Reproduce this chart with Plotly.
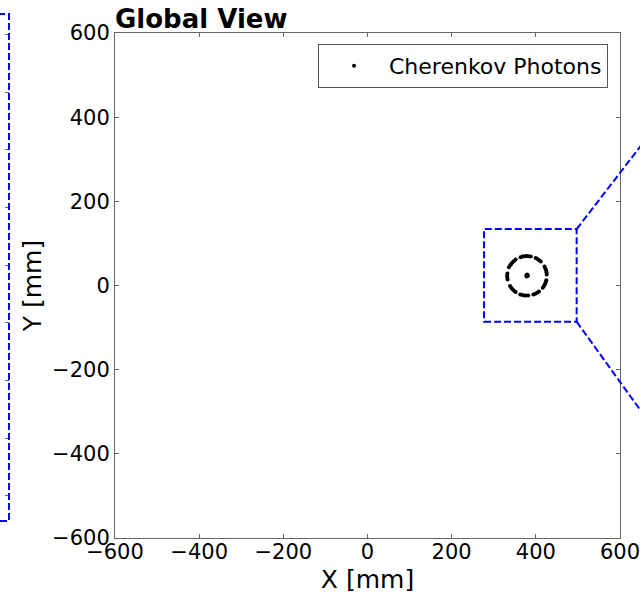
import plotly.graph_objects as go

# ---------------- data ----------------
photon_x = [425.9, 425.3, 424.2, 422.6, 420.5,
            411.7, 407.9, 403.9, 399.6,
            388.0, 383.1, 378.2, 373.3, 368.4, 363.7,
            352.0, 348.2, 344.6, 341.5, 339.1, 336.0,
            332.4, 332.0, 332.2, 332.9,
            338.7, 341.5, 344.6, 348.2, 352.0,
            362.9, 367.6, 372.5, 377.4, 382.3,
            394.3, 398.9, 403.2, 407.3,
            416.5, 419.3, 421.6, 423.4, 424.8,
            379.0, 380.2, 378.1, 381.0, 379.3, 377.6]
photon_y = [26.3, 31.2, 36.0, 40.6, 45.1,
            56.8, 60.0, 62.9, 65.2,
            69.1, 69.8, 70.0, 69.6, 68.8, 67.4,
            61.5, 58.5, 55.1, 51.3, 47.9, 43.2,
            28.7, 23.8, 18.9, 14.0,
            -1.2, -5.3, -9.1, -12.5, -15.5,
            -21.2, -22.6, -23.5, -24.0, -23.9,
            -21.4, -19.6, -17.3, -14.5,
            -5.3, -1.2, 3.1, 7.7, 12.4,
            23.0, 25.0, 21.2, 22.3, 26.0, 24.1]

x_range = [-600, 600]
y_range = [-600, 600]
x_ticks = [-600, -400, -200, 0, 200, 400, 600]
y_ticks = [-600, -400, -200, 0, 200, 400, 600]

zoom_box_x = [277, 497]
zoom_box_y = [-86, 134]
zoom_ticks = [-75, -50, -25, 0, 25, 50, 75, 100, 125]

# ---------------- layout geometry (pixels) ----------------
W, H = 640, 594
PL, PR, PT, PB = 115, 620, 33, 538          # main plot area
ZR, ZT, ZB = 9, 14, 521                     # left (zoom) panel visible edge

FONT = "DejaVu Sans"
BLUE = "#0000ff"
SPINE = "#666666"


def dx2paper(v):
    return (PL + (v - x_range[0]) / (x_range[1] - x_range[0]) * (PR - PL)) / W


def dy2paper(v):
    return 1 - (PB - (v - y_range[0]) / (y_range[1] - y_range[0]) * (PB - PT)) / H


fig = go.Figure()
fig.add_trace(go.Scatter(
    x=photon_x, y=photon_y, mode="markers",
    marker=dict(color="black", size=4, line=dict(width=0)),
    name="Cherenkov Photons", xaxis="x", yaxis="y"))

fig.add_trace(go.Scatter(x=[0], y=[0], mode="markers", marker=dict(opacity=0),
                         showlegend=False, xaxis="x2", yaxis="y2", hoverinfo="skip"))

axis_common = dict(showgrid=False, zeroline=False, showline=True, linecolor=SPINE,
                   linewidth=1, mirror="ticks", ticks="inside", ticklen=4,
                   tickcolor=SPINE, tickwidth=1, automargin=False,
                   ticklabeloverflow="allow",
                   tickfont=dict(family=FONT, size=21, color="black"))

fig.update_layout(
    template="none",
    width=W, height=H,
    margin=dict(l=0, r=0, t=0, b=0, autoexpand=False),
    paper_bgcolor="white", plot_bgcolor="white",
    font=dict(family=FONT, color="black"),
    title=dict(text="<b>Global View</b>", font=dict(family=FONT, size=26, color="black"),
               xref="paper", x=PL / W, xanchor="left",
               yref="container", y=1 - 19 / H, yanchor="middle", automargin=False),
    xaxis=dict(domain=[PL / W, PR / W], range=x_range, tickvals=x_ticks,
               anchor="y", ticklabelstandoff=-5,
               title=dict(text="X [mm]", font=dict(family=FONT, size=25), standoff=9),
               **axis_common),
    yaxis=dict(domain=[1 - PB / H, 1 - PT / H], range=y_range, tickvals=y_ticks,
               anchor="x", ticklabelstandoff=0,
               title=dict(text="Y [mm]", font=dict(family=FONT, size=25), standoff=3),
               **axis_common),
    xaxis2=dict(domain=[0, ZR / W], range=[0, 1], visible=False, anchor="y2",
                automargin=False),
    yaxis2=dict(domain=[1 - ZB / H, 1 - ZT / H], range=zoom_box_y, tickvals=zoom_ticks,
                side="right", anchor="x2", showticklabels=False, showgrid=False,
                zeroline=False, showline=False, ticks="inside", ticklen=4,
                tickcolor=SPINE, tickwidth=1, automargin=False),
    legend=dict(x=608 / W, xanchor="right", y=1 - 44 / H, yanchor="top",
                bgcolor="white", bordercolor="#555555", borderwidth=1,
                font=dict(family=FONT, size=22, color="black"), itemwidth=60),
    showlegend=True,
)

dash = "7px,3px"
fig.add_shape(type="rect", xref="x", yref="y",
              x0=zoom_box_x[0], x1=zoom_box_x[1], y0=zoom_box_y[0], y1=zoom_box_y[1],
              line=dict(color=BLUE, width=2, dash=dash))
fig.add_shape(type="line", xref="paper", yref="paper",
              x0=dx2paper(zoom_box_x[1]), y0=dy2paper(zoom_box_y[1]),
              x1=700 / W, y1=1 - 69 / H, line=dict(color=BLUE, width=2, dash=dash))
fig.add_shape(type="line", xref="paper", yref="paper",
              x0=dx2paper(zoom_box_x[1]), y0=dy2paper(zoom_box_y[0]),
              x1=700 / W, y1=1 - 493 / H, line=dict(color=BLUE, width=2, dash=dash))
fig.add_shape(type="rect", xref="paper", yref="paper",
              x0=-0.5, x1=ZR / W, y0=1 - ZB / H, y1=1 - ZT / H,
              line=dict(color=BLUE, width=2, dash=dash))

fig.write_html("out.html", config={"displayModeBar": False},
               post_script="document.body.style.margin='0';")
